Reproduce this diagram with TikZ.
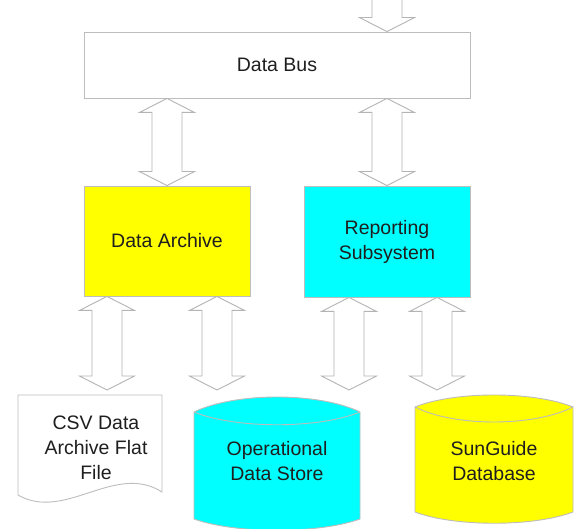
\documentclass[tikz,border=0pt]{standalone}
\usepackage{fontspec}
\setmainfont{Liberation Sans}
\usetikzlibrary{calc}

\definecolor{boxline}{HTML}{BDBDBD}
\definecolor{arrowline}{HTML}{B4B4B4}
\definecolor{txt}{HTML}{1E1E1E}
\definecolor{archfill}{HTML}{FFFF00}
\definecolor{repfill}{HTML}{00FFFF}

\newcommand\lbl{\fontsize{19.5}{25}\selectfont}

% Double-headed block arrow between a top tip #1 and a bottom tip #2
\newcommand\dblblock[2]{%
  \draw[blockarrow] let \p1=(#1), \p2=(#2) in
    (\p1) -- (\x1+27.5pt,\y1-14pt) -- (\x1+15pt,\y1-14pt)
    -- (\x1+15pt,\y2+14pt) -- (\x1+27.5pt,\y2+14pt) -- (\x1,\y2)
    -- (\x1-27.5pt,\y2+14pt) -- (\x1-15pt,\y2+14pt)
    -- (\x1-15pt,\y1-14pt) -- (\x1-27.5pt,\y1-14pt) -- cycle;}

\begin{document}
\begin{tikzpicture}[x=1pt,y=-1pt,
  box/.style={draw=boxline, line width=0.9pt, inner sep=0pt,
    font=\lbl, text=txt, align=center},
  blockarrow/.style={draw=arrowline, fill=white, line width=0.9pt, line join=miter},
  shapeline/.style={draw=boxline, line width=0.9pt},
  lbltext/.style={font=\lbl, text=txt, align=center, inner sep=0pt}]

\clip (0,0) rectangle (574,529);
\fill[white] (0,0) rectangle (574,529);

% main boxes
\node[box, fill=white, minimum width=386pt, minimum height=66pt] (bus) at (277,65) {Data Bus};
\node[box, fill=archfill, minimum width=166pt, minimum height=110pt] (arch) at (167,241) {Data Archive};
\node[box, fill=repfill, minimum width=166pt, minimum height=111pt] (rep) at (387,241.5) {Reporting\\Subsystem};

% flat file (document shape)
\path[shapeline, fill=white] (18,395) -- (18,495)
  .. controls (65,522) and (115,462) .. (162,492) -- (162,395) -- cycle;
\node[lbltext] (csv) at (96,448) {CSV Data\\Archive Flat\\File};

% operational data store (cylinder)
\path[shapeline, fill=repfill] (194,412) -- (194,519)
  .. controls (235.5,534) and (318.5,534) .. (360,519) -- (360,412)
  .. controls (318.5,392) and (235.5,392) .. cycle;
\draw[shapeline] (194,412) .. controls (235.5,429) and (318.5,429) .. (360,412);
\node[lbltext] (ods) at (277,461) {Operational\\Data Store};

% SunGuide database (cylinder)
\path[shapeline, fill=archfill] (415,407) -- (415,512)
  .. controls (454.5,527) and (533.5,527) .. (573,512) -- (573,407)
  .. controls (533.5,391) and (454.5,391) .. cycle;
\draw[shapeline] (415,407) .. controls (454.5,427) and (533.5,427) .. (573,407);
\node[lbltext] (sg) at (494,461) {SunGuide\\Database};

% arrow tips above the storage shapes
\coordinate (csvin) at (107,390);
\coordinate (odsinA) at (217,390);
\coordinate (odsinB) at (349,390);
\coordinate (sgin) at (437,390);

% incoming feed into the data bus
\coordinate (feed) at (387,0);
\draw[blockarrow] let \p1=(feed), \p2=(bus.north -| feed) in
  (\x1-15pt,\y1+2pt) -- (\x1-15pt,\y2+14pt) -- (\x1-27.5pt,\y2+14pt) -- (\p2)
  -- (\x1+27.5pt,\y2+14pt) -- (\x1+15pt,\y2+14pt) -- (\x1+15pt,\y1+2pt);

% bus links
\dblblock{bus.south -| arch.north}{arch.north}
\dblblock{bus.south -| rep.north}{rep.north}

% storage links
\dblblock{arch.south -| csvin}{csvin}
\dblblock{arch.south -| odsinA}{odsinA}
\dblblock{rep.south -| odsinB}{odsinB}
\dblblock{rep.south -| sgin}{sgin}

\end{tikzpicture}
\end{document}
